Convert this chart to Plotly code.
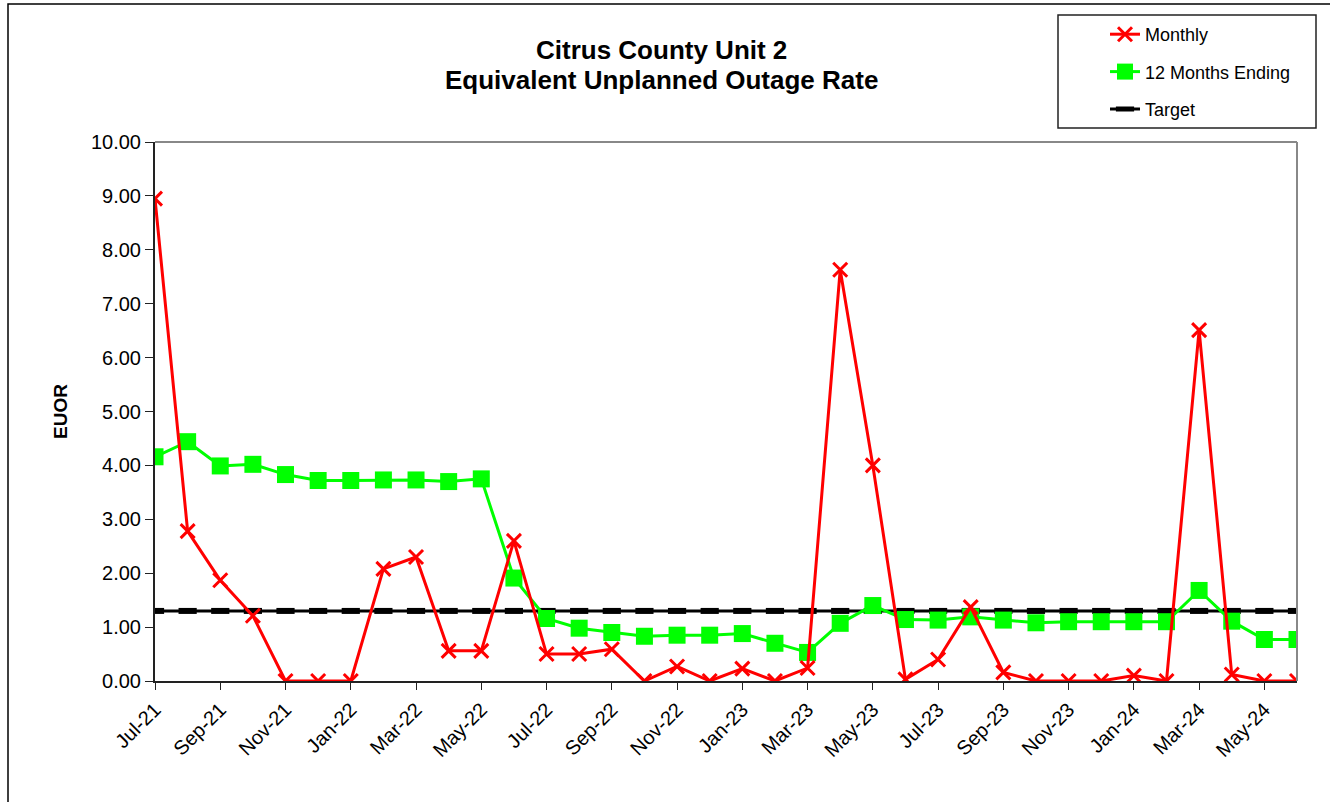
import plotly.graph_objects as go

# Months Jul-21 .. Jun-24
months = ["Jul-21", "Aug-21", "Sep-21", "Oct-21", "Nov-21", "Dec-21",
          "Jan-22", "Feb-22", "Mar-22", "Apr-22", "May-22", "Jun-22",
          "Jul-22", "Aug-22", "Sep-22", "Oct-22", "Nov-22", "Dec-22",
          "Jan-23", "Feb-23", "Mar-23", "Apr-23", "May-23", "Jun-23",
          "Jul-23", "Aug-23", "Sep-23", "Oct-23", "Nov-23", "Dec-23",
          "Jan-24", "Feb-24", "Mar-24", "Apr-24", "May-24", "Jun-24"]

monthly = [8.95, 2.78, 1.87, 1.21, 0.00, 0.00,
           0.00, 2.08, 2.30, 0.56, 0.56, 2.60,
           0.50, 0.50, 0.59, 0.00, 0.27, 0.00,
           0.23, 0.00, 0.24, 7.63, 4.00, 0.03,
           0.40, 1.37, 0.16, 0.00, 0.00, 0.00,
           0.10, 0.00, 6.51, 0.12, 0.00, 0.00]

twelve_month = [4.16, 4.44, 3.99, 4.02, 3.83, 3.72,
                3.72, 3.73, 3.73, 3.70, 3.75, 1.91,
                1.16, 0.98, 0.90, 0.83, 0.85, 0.85,
                0.88, 0.70, 0.53, 1.07, 1.40, 1.14,
                1.13, 1.19, 1.13, 1.08, 1.10, 1.10,
                1.10, 1.10, 1.68, 1.11, 0.77, 0.77]

target = [1.30] * len(months)

y_ticks = [0, 1, 2, 3, 4, 5, 6, 7, 8, 9, 10]

title_lines = ["Citrus County Unit 2", "Equivalent Unplanned Outage Rate"]

x = list(range(len(months)))
font_family = "Liberation Sans, Arial, sans-serif"

W, H = 1330, 802
L, R, T, B = 155, 33, 142, 121
plot_w, plot_h = W - L - R, H - T - B


def px_x(p):
    """Pixel column -> paper x."""
    return (p - L) / plot_w


def px_y(p):
    """Pixel row -> paper y."""
    return (H - B - p) / plot_h


fig = go.Figure()

fig.add_trace(go.Scatter(
    x=x, y=target, name="Target", mode="lines+markers",
    line=dict(color="black", width=3),
    marker=dict(symbol="line-ew", size=13, line=dict(color="black", width=6)),
    legendgroup="c", legendrank=3,
))
fig.add_trace(go.Scatter(
    x=x, y=twelve_month, name="12 Months Ending", mode="lines+markers",
    line=dict(color="#00ff00", width=3),
    marker=dict(symbol="square", size=17, color="#00ff00"),
    legendgroup="b", legendrank=2,
))
fig.add_trace(go.Scatter(
    x=x, y=monthly, name="Monthly", mode="lines+markers",
    line=dict(color="#ff0000", width=3),
    marker=dict(symbol="x-thin", size=14, line=dict(color="#ff0000", width=3)),
    legendgroup="a", legendrank=1,
))

fig.update_layout(
    width=W, height=H,
    margin=dict(l=L, r=R, t=T, b=B),
    paper_bgcolor="white", plot_bgcolor="white",
    font=dict(family=font_family, size=20, color="black"),
    showlegend=True,
    legend=dict(
        x=px_x(1105), y=px_y(16), xanchor="left", yanchor="top",
        borderwidth=0, bgcolor="rgba(0,0,0,0)",
        font=dict(size=18), tracegroupgap=11,
    ),
    xaxis=dict(
        range=[0, len(months) - 1],
        tickmode="array", tickvals=x[::2], ticktext=months[::2],
        tickangle=-45, ticks="outside", ticklen=7, tickcolor="#222222",
        showline=True, linecolor="#222222", linewidth=2,
        showgrid=False, zeroline=False,
        tickfont=dict(size=20),
    ),
    yaxis=dict(
        range=[0, 10], tickvals=y_ticks, tickformat=".2f",
        ticks="outside", ticklen=8, tickcolor="#222222",
        showline=True, linecolor="#222222", linewidth=2,
        showgrid=False, zeroline=False,
        title=dict(text="<b>EUOR</b>", font=dict(size=19), standoff=18),
        tickfont=dict(size=20),
    ),
)

# Two-line bold title
for text, row in zip(title_lines, [50, 80]):
    fig.add_annotation(
        text=f"<b>{text}</b>", xref="paper", yref="paper",
        x=px_x(661), y=px_y(row), xanchor="center", yanchor="middle",
        showarrow=False, font=dict(size=26, family=font_family),
    )

# Gray frame on the top and right sides of the plot area
fig.add_shape(type="line", xref="paper", yref="paper", x0=0, x1=1, y0=1, y1=1,
              line=dict(color="#888888", width=2))
fig.add_shape(type="line", xref="paper", yref="paper", x0=1, x1=1, y0=0, y1=1,
              line=dict(color="#888888", width=2))

# Legend box
fig.add_shape(type="rect", xref="paper", yref="paper",
              x0=px_x(1058), x1=px_x(1316), y0=px_y(128), y1=px_y(15),
              line=dict(color="#222222", width=1.5), fillcolor="white",
              layer="below")

# Outer chart border
fig.add_shape(type="rect", xref="paper", yref="paper",
              x0=px_x(8), x1=px_x(1400), y0=px_y(4), y1=px_y(900),
              line=dict(color="black", width=1.5), layer="below")

fig.write_html("out.html")
